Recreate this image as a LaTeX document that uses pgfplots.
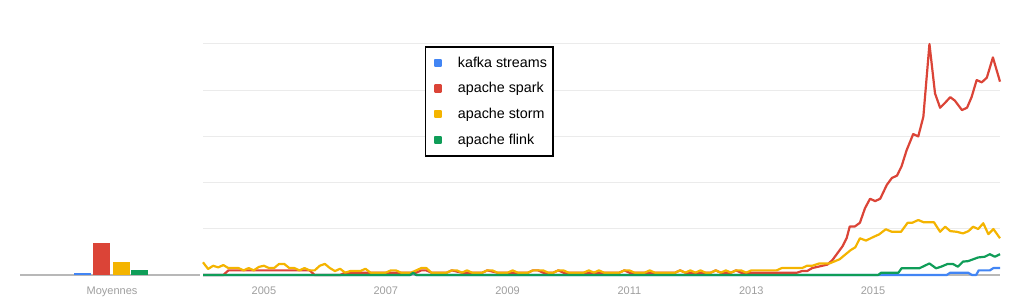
\documentclass[border=0pt]{standalone}
\usepackage{fontspec}
\setmainfont{Liberation Sans}
\usepackage{pgfplots}
\pgfplotsset{compat=1.18}
\definecolor{kblue}{HTML}{4285F4}
\definecolor{kred}{HTML}{DB4437}
\definecolor{kyellow}{HTML}{F4B400}
\definecolor{kgreen}{HTML}{0F9D58}
\definecolor{gridc}{HTML}{EBEBEB}
\definecolor{basec}{HTML}{B8B8B8}
\definecolor{tickc}{HTML}{9E9E9E}
\begin{document}
\begin{tikzpicture}
\path[use as bounding box] (0,0) rectangle (1024bp,308bp);
\pgfplotsset{
 common/.style={scale only axis, height=231bp, ymin=0, ymax=100, clip=false,
   axis lines*=left,
   x axis line style={-, draw=basec, line width=1.5bp},
   y axis line style={draw=none},
   major tick length=0pt,
   tick label style={font=\fontsize{11bp}{13bp}\selectfont, text=tickc},
   xticklabel style={yshift=-8bp},
   yticklabels={},
   /pgf/number format/assume math mode=true,
 }
}
\begin{axis}[common, at={(20bp,33bp)}, anchor=south west, width=180bp,
  xmin=20, xmax=200, ytick=\empty, xtick={112}, xticklabels={Moyennes}]
\addplot[ybar, bar width=17, bar shift=0pt, fill=kblue, draw=none] coordinates {(82.5,0.8)};
\addplot[ybar, bar width=17, bar shift=0pt, fill=kred, draw=none] coordinates {(101.8,13.7)};
\addplot[ybar, bar width=17, bar shift=0pt, fill=kyellow, draw=none] coordinates {(121,5.6)};
\addplot[ybar, bar width=17, bar shift=0pt, fill=kgreen, draw=none] coordinates {(139.7,2)};
\end{axis}
\begin{axis}[common, at={(203bp,33bp)}, anchor=south west, width=797bp,
  xmin=0, xmax=157,
  ytick={20,40,60,80,100}, ymajorgrids, grid style={draw=gridc, line width=1bp},
  xtick={12,36,60,84,108,132}, xticklabels={2005,2007,2009,2011,2013,2015},
  legend cell align=left,
  legend image code/.code={\path (0bp,0bp); \fill[#1] (4bp,-3bp) rectangle (10bp,3bp);},
  legend style={at={(0.2785,0.9913)}, anchor=north west, draw=black, line width=1.5bp,
    fill=white, font=\fontsize{14.3bp}{16bp}\selectfont,
    inner xsep=4bp, inner ysep=8bp, row sep=10bp, column sep=14bp},
  every axis plot/.append style={line width=2.2bp, line join=round}]
\addplot[color=kblue] coordinates {
(0,0)(40.8,0)(41.4,0.8)(42,0)(146.5,0)(147.2,1)(150.7,1)(151.5,0)(152.3,0)(152.8,2)(155,2)(155.7,3)(157,3)};
\addlegendentry{kafka streams}
\addplot[color=kred] coordinates {
(0,0)(4,0)(5,2)(21,2)(22,0)(27,0)(28,1)(42,1)(43,2)(44,2)(45,1)(48,1)(49,2)(50,1.5)(51,1)(55,1)(56,2)(57,1.5)(58,1)(64,1)(65,2)(66,2)(67,1)(69,1)(70,2)(71,1)(82,1)(83,2)(84,1)(93,1)(94,2)(95,1)(100,1)(101,2)(102,1)(104,1)(105,2)(106,1)(117,1)(118,1.7)(119,1.7)(120,3)
(121,3.5)(122,4)(123,4.5)(124,6.5)(125,9.5)(126,12.5)(126.8,16)(127.4,21)(128.4,21)(129.4,22.6)(130.4,28.9)(131.4,33)(132.4,32)(133.4,33)(134.7,39)(135.7,42)(136.7,43)(137.6,47)(138.6,54)(139.9,61)(140.9,60)(141.9,68.5)(143.1,100)(144.2,78.6)(145.2,72.4)(146.2,74.6)(147.2,77)(148.1,75.5)(149.5,71.4)(150.5,72.4)(151.4,77)(152.4,84.4)(153.4,83.4)(154.4,85.4)(155.6,94.2)(157,83.7)};
\addlegendentry{apache spark}
\addplot[color=kyellow] coordinates {
(0,5.5)(1,2.6)(2,4)(3,3.3)(4,4.3)(5,3)(6,3)(7,3)(8,2)(9,3)(10,2)(11,3.5)(12,4)(13,3)(14,3)(15,4.8)(16,4.8)(17,3)(18,3)(19,2)(20,3)(21,2)(22,2)(23,4)(24,4.8)(25,3)(26,1.7)(27,2.7)(28,1)(29,1.7)(30,1.7)(31,1.7)(32,2.7)(33,1)(34,1)(35,1)(36,1)(37,2)(38,2)(39,1)(40,1)(41,1)(42,2)(43,3)(44,3)(45,1)(46,1)(47,1)(48,1)(49,2)(50,2)(51,1)(52,2)(53,1)(54,1)(55,1)(56,2)(57,2)(58,1)(59,1)(60,1)(61,2)(62,1)(63,1)(64,1)(65,2)(66,2)(67,2)(68,1)(69,1)(70,2)(71,2)(72,1)(73,1)(74,1)(75,1)(76,2)(77,1)(78,2)(79,1)(80,1)(81,1)(82,1)(83,2)(84,2)(85,1)(86,1)(87,1)(88,2)(89,1)(90,1)(91,1)(92,1)(93,1)(94,2)(95,1)(96,2)(97,1)(98,2)(99,1)(100,1)(101,2)(102,1)(103,2)(104,1)(105,2)(106,2)(107,1)(108,2)(109,2)(110,2)(111,2)(112,2)(113,2)(114,3)(115,3)(116,3)(117,3)(118,3)(119,4)(120,4)
(121.4,5)(123.4,5)(125.4,6.8)(126.6,9)(127.6,10.8)(128.5,12)(129.4,15.9)(130.6,14.9)(131.9,16.3)(133.2,17.6)(134.5,19.8)(135.7,18.7)(137.5,18.7)(138.8,22.6)(139.7,22.6)(140.9,23.8)(142,22.8)(144,22.8)(145.2,18.7)(146.2,20.9)(147.2,19)(148.5,18.7)(149.7,18)(150.8,19)(151.7,20.9)(152.7,19.9)(153.7,22.4)(154.7,17.7)(155.7,19.9)(157,15.9)};
\addlegendentry{apache storm}
\addplot[color=kgreen] coordinates {
(0,0)(40.8,0)(41.4,1)(42,0)(133,0)(133.6,1)(137,1)(137.6,2.9)(141.1,2.9)(143.1,5)(144.4,2.9)(145.4,3.6)(146.7,4.8)(147.7,4.8)(148.7,3.6)(149.7,5.8)(150.7,6)(151.7,6.8)(152.7,7.6)(154,7.9)(155,9)(156,7.9)(157,9)};
\addlegendentry{apache flink}
\end{axis}
\end{tikzpicture}
\end{document}
